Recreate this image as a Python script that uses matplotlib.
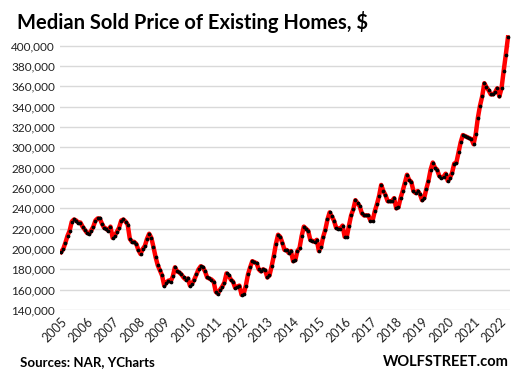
import numpy as np
import matplotlib.pyplot as plt

plt.rcParams['font.family'] = ['Lato', 'DejaVu Sans']

# median sold price, thousands of $, monthly Jan 2005 - May 2022
p2005 = [197, 200, 206, 213, 218, 227, 229, 228, 226, 226, 222, 219]
p2006 = [216, 215, 218, 222, 228, 230, 230, 225, 221, 220, 218, 222]
p2007 = [211, 213, 217, 221, 228, 229, 227, 224, 210, 207, 207, 205]
p2008 = [199, 195, 200, 203, 210, 215, 211, 202, 192, 184, 179, 174]
p2009 = [164, 167, 169, 168, 173, 182, 178, 177, 175, 172, 170, 171]
p2010 = [164, 166, 170, 175, 180, 183, 182, 178, 172, 171, 170, 168]
p2011 = [158, 156, 160, 163, 167, 176, 174, 170, 168, 162, 163, 164]
p2012 = [155, 156, 164, 175, 182, 188, 187, 186, 180, 178, 180, 179]
p2013 = [172, 174, 183, 193, 205, 214, 212, 206, 199, 199, 196, 198]
p2014 = [188, 189, 198, 201, 213, 222, 220, 218, 209, 208, 207, 209]
p2015 = [198, 202, 212, 219, 229, 236, 232, 228, 221, 220, 220, 223]
p2016 = [212, 212, 223, 233, 239, 248, 245, 242, 235, 233, 233, 233]
p2017 = [228, 228, 237, 244, 252, 263, 257, 253, 247, 247, 247, 250]
p2018 = [240, 241, 250, 257, 265, 273, 268, 266, 257, 255, 257, 254]
p2019 = [248, 250, 259, 267, 278, 285, 280, 278, 272, 270, 271, 274]
p2020 = [267, 270, 275, 284, 285, 295, 305, 312, 311, 310, 309, 308]
p2021 = [303, 313, 329, 341, 350, 363, 359, 356, 352, 352, 354, 358]
p2022 = [350, 358, 375, 391, 408]

years = list(range(2005, 2023))

prices = np.array(p2005 + p2006 + p2007 + p2008 + p2009 + p2010 + p2011 + p2012 +
                  p2013 + p2014 + p2015 + p2016 + p2017 + p2018 + p2019 + p2020 +
                  p2021 + p2022) * 1000
months = np.arange(len(prices))

fig = plt.figure(figsize=(5.15, 3.79), dpi=100)
ax = fig.add_axes([0.1165, 0.182, 0.874, 0.73])

ax.plot(months, prices, color='#ff0000', lw=3.2, zorder=3)
ax.plot(months, prices, 'o', color='black', ms=1.7, zorder=4)

ax.set_ylim(140000, 412000)
ax.set_xlim(-0.5, 209)
ax.set_yticks(np.arange(140000, 400001, 20000))
ax.yaxis.set_major_formatter(plt.FuncFormatter(lambda v, p: f'{int(v):,}'))
ax.set_xticks([12 * (y - 2005) for y in years])
ax.set_xticklabels([str(y) for y in years], rotation=45, ha='right',
                   rotation_mode='anchor', fontsize=9)
ax.tick_params(length=0, labelsize=8.5, colors='#222222')
ax.tick_params(axis='x', pad=4, labelsize=9)
ax.grid(axis='y', color='#d9d9d9', lw=1)
ax.set_axisbelow(True)
for s in ax.spines.values():
    s.set_visible(False)

fig.text(0.033, 0.942, 'Median Sold Price of Existing Homes, $', fontsize=14.5,
         fontweight='bold', va='center')
fig.text(0.039, 0.045, 'Sources: NAR, YCharts', fontsize=9.5, fontweight='bold',
         va='center')
fig.text(0.987, 0.045, 'WOLFSTREET.com', fontsize=10.5, fontweight='bold',
         va='center', ha='right')

fig.savefig('out.png', dpi=100)
